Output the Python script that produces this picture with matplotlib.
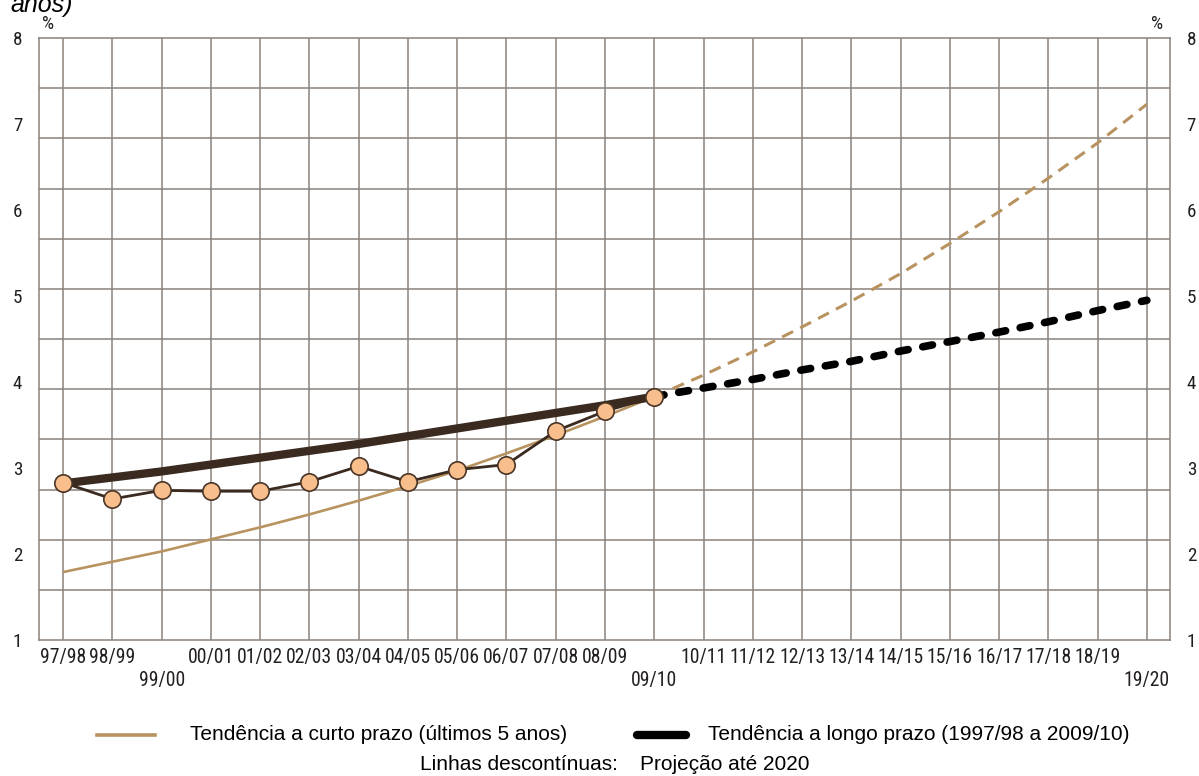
import matplotlib
matplotlib.use("Agg")
import matplotlib.pyplot as plt
from matplotlib import font_manager as fm
from matplotlib.lines import Line2D
from matplotlib.textpath import TextPath

# ---- data -----------------------------------------------------------------
seasons = ["97/98", "98/99", "99/00", "00/01", "01/02", "02/03", "03/04",
           "04/05", "05/06", "06/07", "07/08", "08/09", "09/10", "10/11",
           "11/12", "12/13", "13/14", "14/15", "15/16", "16/17", "17/18",
           "18/19", "19/20"]
lowered_labels = ["99/00", "09/10", "19/20"]

# observed values, 1997/98 to 2009/10 (%)
observed = [2.83, 2.64, 2.74, 2.73, 2.73, 2.84, 3.02, 2.84, 2.98, 3.04,
            3.43, 3.66, 3.83]

# short-term trend (last 5 years), fitted part and projection to 2020
short_trend = [1.79, 1.91, 2.03, 2.17, 2.31, 2.46, 2.62, 2.79, 2.97, 3.17,
               3.38, 3.60, 3.83]
short_proj = [3.83, 4.08, 4.35, 4.64, 4.94, 5.26, 5.61, 5.98, 6.37, 6.78,
              7.23]

# long-term trend (1997/98 to 2009/10), fitted part and projection to 2020
long_trend = [2.82, 2.89, 2.96, 3.04, 3.12, 3.20, 3.28, 3.37, 3.46, 3.55,
              3.64, 3.73, 3.83]
long_proj = [3.83, 3.93, 4.03, 4.14, 4.24, 4.36, 4.47, 4.58, 4.70, 4.83,
             4.95]

y_labels = [1, 2, 3, 4, 5, 6, 7, 8]


# ---- fonts ----------------------------------------------------------------
SANS_FAMILIES = ("Liberation Sans", "Noto Sans", "Roboto", "Open Sans",
                 "Lato", "Inter", "DejaVu Sans")
SKIP = ("Mono", "CJK", "Math", "Symbol", "Emoji", "Serif", "Display",
        "Arabic", "Hebrew", "Thai", "Devanagari")


def _shape(prop, text):
    return TextPath((0, 0), text, size=10, prop=prop).get_extents()


def narrow_font():
    """Return the narrowest regular, upright sans face among the installed ones."""
    best, best_ratio = None, None
    seen = set()
    for f in fm.fontManager.ttflist:
        if f.fname in seen:
            continue
        seen.add(f.fname)
        if not f.name.startswith(SANS_FAMILIES) or any(s in f.name for s in SKIP):
            continue
        if f.style != "normal" or f.weight not in (400, "normal", "regular", "book"):
            continue
        try:
            prop = fm.FontProperties(fname=f.fname)
            w = max(_shape(prop, s).width for s in ("08/09", "98/99", "00/01"))
            h = _shape(prop, "0").height
        except Exception:
            continue
        if h <= 0:
            continue
        ratio = w / h
        if best_ratio is None or ratio < best_ratio:
            best, best_ratio = prop, ratio
    if best is None:
        best = fm.FontProperties(family="Liberation Sans")
    return best


NARROW = narrow_font()


def fitted_size(texts, width_px, height_px, probe="0"):
    """Font size (pt) so every text fits width_px and `probe` reaches height_px."""
    w = max(_shape(NARROW, t).width for t in texts)
    h = _shape(NARROW, probe).height
    size_w = 10 * (width_px * 0.72) / w
    size_h = 10 * (height_px * 0.72) / h
    return min(size_w, size_h)


XT_SIZE = fitted_size(seasons, 44.5, 18)
YT_SIZE = fitted_size(["8"], 13, 14, probe="8")
PCT_SIZE = fitted_size(["%"], 15, 14, probe="%")

SANS = "Liberation Sans"
GRID = "#8c817a"
TEXT = "#231f20"
DARK = "#3a2a1f"
TAN = "#b8935f"
PEACH = "#f8bf8c"

# ---- figure -----------------------------------------------------------------
W, H = 1199, 776
fig = plt.figure(figsize=(W / 100, H / 100), dpi=100)
fig.patch.set_facecolor("white")

left, right, top, bottom = 39, 1170, 38, 640
ax = fig.add_axes([left / W, 1 - bottom / H, (right - left) / W, (bottom - top) / H])

n = len(seasons)
ax.set_xlim(-0.49, n - 1 + 0.47)
ax.set_ylim(1, 8)

# grid: one vertical line per season, 12 horizontal bands
for i in range(n):
    ax.axvline(i, color=GRID, lw=1.1, zorder=1)
for k in range(1, 12):
    ax.axhline(1 + k * 7 / 12, color=GRID, lw=1.1, zorder=1)
for s in ax.spines.values():
    s.set_color(GRID)
    s.set_linewidth(1.1)

x_obs = list(range(len(observed)))
x_fit = list(range(len(short_trend)))
x_proj = list(range(len(short_trend) - 1, len(short_trend) - 1 + len(short_proj)))

# trends
ax.plot(x_fit, short_trend, color=TAN, lw=1.9, zorder=3, solid_capstyle="butt")
ax.plot(x_proj, short_proj, color=TAN, lw=2.2, zorder=3, dashes=(4, 2.6))
ax.plot(x_fit, long_trend, color=DARK, lw=6, zorder=3, solid_capstyle="butt")
ax.plot(x_proj, long_proj, color="black", lw=5.5, zorder=3,
        dashes=(1.3, 1.95), dash_capstyle="round")

# observed series
ax.plot(x_obs, observed, color=DARK, lw=2, zorder=4)
ax.plot(x_obs, observed, ls="none", marker="o", ms=12.5, mfc=PEACH,
        mec="#4a3426", mew=1.2, zorder=5)

# x axis labels, a few of them set lower
ax.set_xticks(range(n))
ax.set_xticklabels(seasons, color=TEXT, fontproperties=NARROW, fontsize=XT_SIZE)
ax.tick_params(axis="x", length=0, pad=6)
for t, lab in zip(ax.xaxis.get_major_ticks(), seasons):
    if lab in lowered_labels:
        t.set_pad(22)

# y labels on both sides
ax.set_yticks(y_labels)
ax.set_yticklabels([str(v) for v in y_labels], color=TEXT,
                   fontproperties=NARROW, fontsize=YT_SIZE)
ax.tick_params(axis="y", length=0, left=False, right=False,
               labelleft=True, labelright=True, pad=12)
for t in ax.yaxis.get_major_ticks():
    t.label2.set_fontproperties(NARROW)
    t.label2.set_fontsize(YT_SIZE)
    t.label2.set_color(TEXT)

fig.text(48 / W, 1 - 24 / H, "%", color=TEXT, ha="center", va="center",
         fontproperties=NARROW, fontsize=PCT_SIZE)
fig.text(1157 / W, 1 - 24 / H, "%", color=TEXT, ha="center", va="center",
         fontproperties=NARROW, fontsize=PCT_SIZE)

# title fragment at the top edge
fig.text(10 / W, 1 - 12 / H, "anos)", fontsize=18, style="italic",
         family=SANS, color="black", ha="left", va="baseline")

# legend
fig.add_artist(Line2D([97 / W, 155 / W], [1 - 735 / H] * 2, color=TAN, lw=2.6,
                      transform=fig.transFigure))
fig.add_artist(Line2D([637 / W, 686 / W], [1 - 735 / H] * 2, color="black",
                      lw=6, solid_capstyle="round", transform=fig.transFigure))
fig.text(190 / W, 1 - 735 / H, "Tendência a curto prazo (últimos 5 anos)",
         fontsize=15, family=SANS, color="black", va="center", ha="left")
fig.text(708 / W, 1 - 735 / H, "Tendência a longo prazo (1997/98 a 2009/10)",
         fontsize=15, family=SANS, color="black", va="center", ha="left")
fig.text(420 / W, 1 - 764 / H, "Linhas descontínuas:",
         fontsize=15, family=SANS, color="black", va="center", ha="left")
fig.text(640 / W, 1 - 764 / H, "Projeção até 2020",
         fontsize=15, family=SANS, color="black", va="center", ha="left")

fig.savefig("out.png", dpi=100, facecolor="white")
